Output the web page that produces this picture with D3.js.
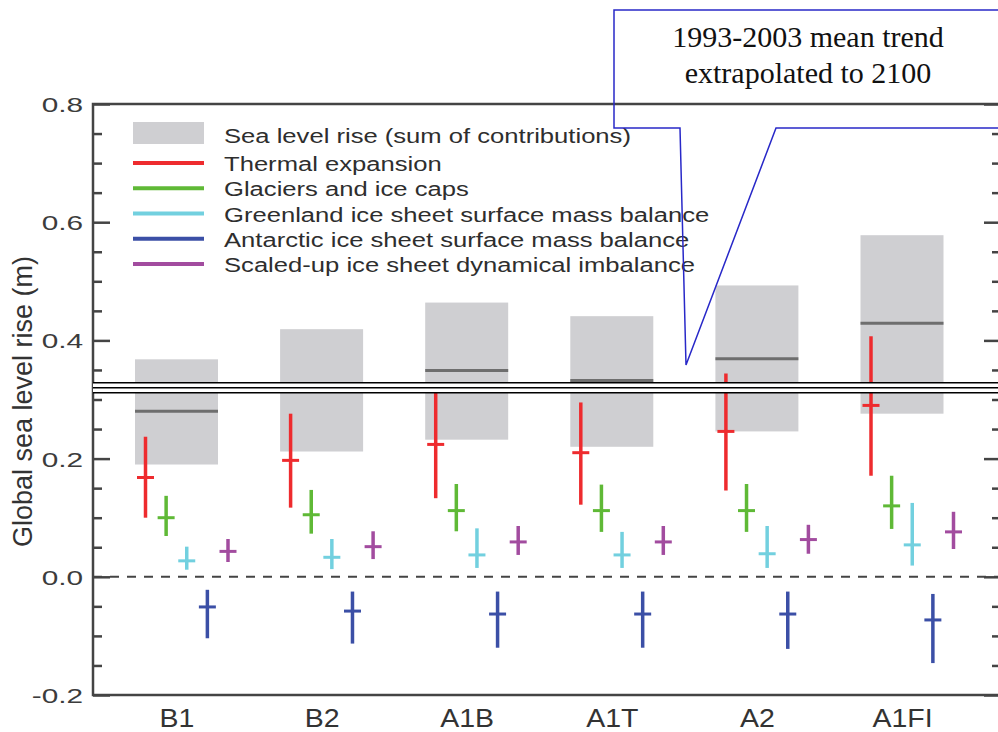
<!DOCTYPE html>
<html>
<head>
<meta charset="utf-8">
<script src="https://cdn.jsdelivr.net/npm/d3@7"></script>
<style>
  html, body { margin: 0; padding: 0; background: #fff; }
  svg { display: block; }
  text { font-family: "Liberation Sans", Arial, Helvetica, sans-serif; }
</style>
</head>
<body>
<svg id="chart" width="998" height="732"></svg>
<script>
// ---------------- data ----------------
const categories = ["B1", "B2", "A1B", "A1T", "A2", "A1FI"];

// Sea level rise (sum of contributions): range box and central estimate
const slrLow  = [0.190, 0.212, 0.232, 0.220, 0.246, 0.276];
const slrHigh = [0.368, 0.419, 0.464, 0.441, 0.493, 0.578];
const slrMid  = [0.280, 0.315, 0.349, 0.332, 0.369, 0.429];

// Contributions: central value, low, high
const thermalMid  = [0.168, 0.197, 0.224, 0.210, 0.246, 0.290];
const thermalLow  = [0.100, 0.117, 0.133, 0.122, 0.146, 0.171];
const thermalHigh = [0.237, 0.276, 0.315, 0.295, 0.344, 0.407];

const glacierMid  = [0.100, 0.105, 0.112, 0.112, 0.112, 0.120];
const glacierLow  = [0.069, 0.073, 0.077, 0.076, 0.076, 0.081];
const glacierHigh = [0.137, 0.147, 0.157, 0.156, 0.157, 0.171];

const greenlandMid  = [0.027, 0.033, 0.037, 0.037, 0.039, 0.054];
const greenlandLow  = [0.012, 0.013, 0.015, 0.015, 0.015, 0.019];
const greenlandHigh = [0.051, 0.064, 0.082, 0.076, 0.086, 0.125];

const antarcticMid  = [-0.051, -0.058, -0.063, -0.063, -0.063, -0.073];
const antarcticLow  = [-0.104, -0.113, -0.120, -0.120, -0.122, -0.146];
const antarcticHigh = [-0.022, -0.025, -0.025, -0.025, -0.025, -0.029];

const dynamicMid  = [0.043, 0.051, 0.059, 0.059, 0.063, 0.076];
const dynamicLow  = [0.025, 0.030, 0.037, 0.037, 0.039, 0.047];
const dynamicHigh = [0.064, 0.077, 0.086, 0.086, 0.088, 0.110];

const seriesNames = [
  "Thermal expansion",
  "Glaciers and ice caps",
  "Greenland ice sheet surface mass balance",
  "Antarctic ice sheet surface mass balance",
  "Scaled-up ice sheet dynamical imbalance"
];
const sumLabel = "Sea level rise (sum of contributions)";

// 1993-2003 mean trend extrapolated to 2100
const trendValue = 0.32;
const calloutLines = ["1993-2003 mean trend", "extrapolated to 2100"];

const yMajorTicks = [-0.2, 0.0, 0.2, 0.4, 0.6, 0.8];
const yTitle = "Global sea level rise (m)";

// ---------------- styles ----------------
const colors = ["#ee2b2e", "#5fb936", "#72d0df", "#3b4fa6", "#a24c9f"];
const boxColor = "#cfcfd2";
const medianColor = "#6e6e6e";
const axisColor = "#444";

// ---------------- layout ----------------
const svg = d3.select("#chart");
svg.append("rect").attr("width", 998).attr("height", 732).attr("fill", "#fff");

const plotLeft = 93, plotRight = 1001, plotTop = 104, plotBottom = 695;

const y = d3.scaleLinear().domain([-0.2, 0.8]).range([plotBottom, plotTop]);
const x = d3.scalePoint().domain(categories).range([176.5, 902]);
const xc = d3.scalePoint().domain(seriesNames).range([-31, 51.5]);
const boxHalf = 41.5;

const table = categories.map((c, i) => ({
  cat: c,
  low: slrLow[i], high: slrHigh[i], mid: slrMid[i],
  comps: [
    [thermalMid[i], thermalLow[i], thermalHigh[i]],
    [glacierMid[i], glacierLow[i], glacierHigh[i]],
    [greenlandMid[i], greenlandLow[i], greenlandHigh[i]],
    [antarcticMid[i], antarcticLow[i], antarcticHigh[i]],
    [dynamicMid[i], dynamicLow[i], dynamicHigh[i]]
  ]
}));

// ---------------- boxes ----------------
const g = svg.append("g");
g.selectAll("rect.box").data(table).join("rect")
  .attr("class", "box")
  .attr("x", d => x(d.cat) - boxHalf)
  .attr("width", boxHalf * 2)
  .attr("y", d => y(d.high))
  .attr("height", d => y(d.low) - y(d.high))
  .attr("fill", boxColor);
g.selectAll("line.med").data(table).join("line")
  .attr("class", "med")
  .attr("x1", d => x(d.cat) - boxHalf)
  .attr("x2", d => x(d.cat) + boxHalf)
  .attr("y1", d => y(d.mid)).attr("y2", d => y(d.mid))
  .attr("stroke", medianColor).attr("stroke-width", 3);

// ---------------- zero dashed line ----------------
g.append("line")
  .attr("x1", plotLeft).attr("x2", plotRight)
  .attr("y1", y(0)).attr("y2", y(0))
  .attr("stroke", axisColor).attr("stroke-width", 2)
  .attr("stroke-dasharray", "9,8").attr("stroke-dashoffset", -17);

// ---------------- error bars ----------------
const bars = [];
table.forEach(d => d.comps.forEach((c, k) => bars.push({cat: d.cat, k, mid: c[0], low: c[1], high: c[2]})));
const eb = g.selectAll("g.eb").data(bars).join("g")
  .attr("class", "eb")
  .attr("transform", d => `translate(${x(d.cat) + xc(seriesNames[d.k])},0)`);
eb.append("line")
  .attr("x1", 0).attr("x2", 0)
  .attr("y1", d => y(d.high)).attr("y2", d => y(d.low))
  .attr("stroke", d => colors[d.k]).attr("stroke-width", 3.5);
eb.append("line")
  .attr("x1", -8.5).attr("x2", 8.5)
  .attr("y1", d => y(d.mid)).attr("y2", d => y(d.mid))
  .attr("stroke", d => colors[d.k]).attr("stroke-width", 3);

// ---------------- axes / frame ----------------
const fmt = d => d.toFixed(1);
const minorTicks = d3.range(-0.2, 0.8001, 0.05).filter(v => !yMajorTicks.some(m => Math.abs(m - v) < 1e-6));

const left = svg.append("g").attr("transform", `translate(${plotLeft},0)`);
left.append("g").call(d3.axisLeft(y).tickValues(minorTicks).tickSize(-9).tickFormat(""));
const leftMajor = left.append("g").call(d3.axisLeft(y).tickValues(yMajorTicks).tickSize(-17).tickPadding(0).tickFormat(fmt));
left.selectAll(".domain").remove();
left.selectAll(".tick line").attr("stroke", axisColor).attr("stroke-width", 2.5);
leftMajor.selectAll(".tick text")
  .attr("x", -7).attr("dy", "0.36em")
  .attr("transform", "scale(1.42,1)")
  .attr("font-size", 21).attr("fill", "#3c3c3c");

const right = svg.append("g").attr("transform", `translate(${plotRight},0)`);
right.append("g").call(d3.axisRight(y).tickValues(minorTicks).tickSize(-9).tickFormat(""));
right.append("g").call(d3.axisRight(y).tickValues(yMajorTicks).tickSize(-17).tickFormat(""));
right.selectAll(".domain").remove();
right.selectAll(".tick line").attr("stroke", axisColor).attr("stroke-width", 2.5);

const bottom = svg.append("g").attr("transform", `translate(0,${plotBottom})`)
  .call(d3.axisBottom(x).tickSize(0).tickPadding(14));
bottom.select(".domain").remove();
bottom.selectAll(".tick text")
  .attr("font-size", 25).attr("fill", "#333")
  .attr("transform", "scale(1.14,1)");

svg.append("rect")
  .attr("x", plotLeft).attr("y", plotTop)
  .attr("width", plotRight - plotLeft).attr("height", plotBottom - plotTop)
  .attr("fill", "none").attr("stroke", axisColor).attr("stroke-width", 2.5);

// y title
svg.append("text")
  .attr("transform", `translate(32,${(plotTop + plotBottom) / 2 + 2}) rotate(-90)`)
  .attr("text-anchor", "middle")
  .attr("font-size", 27).attr("fill", "#333")
  .text(yTitle);

// ---------------- legend ----------------
const lg = svg.append("g");
const legX1 = 133, legX2 = 204, legTextX = 224;
lg.append("rect").attr("x", legX1).attr("y", 122).attr("width", legX2 - legX1).attr("height", 22).attr("fill", boxColor);
lg.append("text")
  .attr("transform", `translate(${legTextX},${135 + 7.5}) scale(1.22,1)`)
  .attr("font-size", 21).attr("fill", "#2e2e2e").text(sumLabel);
const rowY = d3.scalePoint().domain(seriesNames).range([163, 264]);
seriesNames.forEach((n, k) => {
  lg.append("line")
    .attr("x1", legX1).attr("x2", legX2)
    .attr("y1", rowY(n)).attr("y2", rowY(n))
    .attr("stroke", colors[k]).attr("stroke-width", 4);
  lg.append("text")
    .attr("transform", `translate(${legTextX},${rowY(n) + 8}) scale(1.22,1)`)
    .attr("font-size", 21).attr("fill", "#2e2e2e").text(n);
});

// ---------------- trend line (triple) ----------------
const ty = y(trendValue);
svg.append("rect").attr("x", plotLeft).attr("width", plotRight - plotLeft)
  .attr("y", ty - 5).attr("height", 10).attr("fill", "#fff");
[-5, 0, 5].forEach(o => {
  svg.append("line").attr("x1", plotLeft).attr("x2", plotRight)
    .attr("y1", ty + o).attr("y2", ty + o)
    .attr("stroke", "#000").attr("stroke-width", 1.6);
});

// ---------------- callout ----------------
const tipX = 686, tipY = 365;
const callout = d3.path();
callout.moveTo(1000, 10);
callout.lineTo(614, 10);
callout.lineTo(614, 128);
callout.lineTo(680, 128);
callout.lineTo(tipX, tipY);
callout.lineTo(776, 128);
callout.lineTo(1000, 128);
svg.append("path").attr("d", callout.toString())
  .attr("fill", "none").attr("stroke", "#2828c8").attr("stroke-width", 1.5);
calloutLines.forEach((t, i) => {
  svg.append("text")
    .attr("x", 808).attr("y", 47 + i * 36)
    .attr("text-anchor", "middle")
    .style("font-family", "'Liberation Serif', 'Times New Roman', serif")
    .attr("font-size", 30).attr("fill", "#111")
    .text(t);
});
</script>
</body>
</html>
